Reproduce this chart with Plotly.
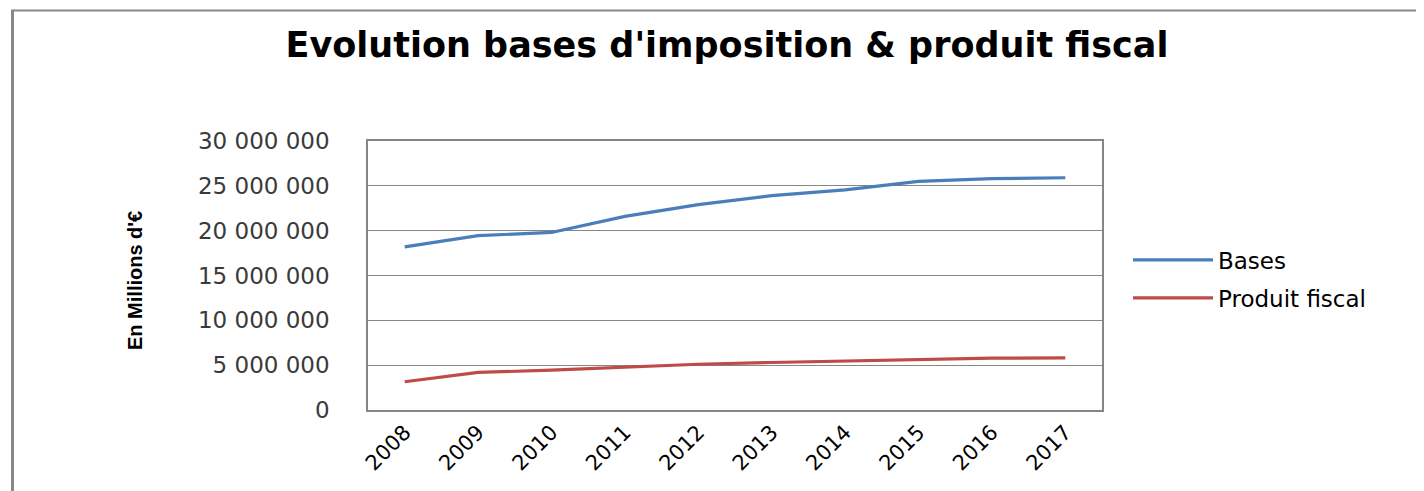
import plotly.graph_objects as go

years = ["2008", "2009", "2010", "2011", "2012", "2013", "2014", "2015", "2016", "2017"]
bases = [18200000, 19450000, 19800000, 21600000, 22900000, 23900000, 24550000, 25500000, 25800000, 25900000]
produit = [3150000, 4190000, 4440000, 4800000, 5100000, 5300000, 5480000, 5670000, 5780000, 5810000]
y_ticks = [0, 5000000, 10000000, 15000000, 20000000, 25000000, 30000000]
y_tick_labels = ["0", "5 000 000", "10 000 000", "15 000 000", "20 000 000", "25 000 000", "30 000 000"]

# the page body adds an 8px offset; work in page coordinates and subtract it
OFF = 8
W, H = 1424 - OFF, 491 - OFF
L = 368 - OFF
T = 141 - OFF
R = W - (1102 - OFF)
B = H - (410 - OFF)
pw, ph = W - L - R, H - T - B

fig = go.Figure()
fig.add_trace(go.Scatter(x=years, y=bases, mode="lines", name="Bases", legendgroup="a",
                         line=dict(color="#4A7EBB", width=3.2)))
fig.add_trace(go.Scatter(x=years, y=produit, mode="lines", name="Produit fiscal", legendgroup="b",
                         line=dict(color="#BE4B48", width=3.2)))

def px_x(x):
    return (x - OFF - L) / pw

def px_y(y):
    return 1 - (y - OFF - T) / ph

fig.update_layout(
    width=W, height=H,
    margin=dict(l=L, r=R, t=T, b=B, autoexpand=False),
    paper_bgcolor="white", plot_bgcolor="white",
    title=dict(text="<b>Evolution bases d'imposition & produit fiscal</b>",
               x=(727 - OFF) / W, xanchor="center", y=1 - (45 - OFF) / H, yanchor="middle",
               font=dict(family="DejaVu Sans", size=35, color="#000000")),
    xaxis=dict(type="category", showgrid=False, showline=True, linecolor="#868686",
               linewidth=1.5, mirror=True, ticks="", tickangle=-45,
               tickfont=dict(family="DejaVu Sans", size=21, color="#000000"),
               range=[-0.5, 9.5]),
    yaxis=dict(range=[0, 30000000], tickvals=y_ticks, ticktext=y_tick_labels,
               showgrid=True, gridcolor="#868686", gridwidth=1.2,
               showline=True, linecolor="#868686", linewidth=1.5, mirror=True,
               ticks="", ticklabelstandoff=32,
               tickfont=dict(family="DejaVu Sans", size=23, color="#3a3a3a"),
               zeroline=False),
    legend=dict(x=px_x(1128), xanchor="left", y=px_y(279), yanchor="middle",
                font=dict(family="DejaVu Sans", size=23, color="#000000"),
                itemwidth=80, tracegroupgap=5, bgcolor="rgba(0,0,0,0)"),
    showlegend=True,
)

fig.add_annotation(text="<b>En Millions d'€</b>", xref="paper", yref="paper",
                   x=px_x(135), y=px_y(280), textangle=-90, showarrow=False,
                   xanchor="center", yanchor="middle",
                   font=dict(family="Liberation Sans Narrow, Liberation Sans", size=20, color="#000000"))

# outer chart frame (left and top border)
fig.add_shape(type="line", xref="paper", yref="paper",
              x0=px_x(12.5), x1=px_x(12.5), y0=px_y(10), y1=px_y(500),
              line=dict(color="#888888", width=3))
fig.add_shape(type="line", xref="paper", yref="paper",
              x0=px_x(11), x1=px_x(1440), y0=px_y(10.5), y1=px_y(10.5),
              line=dict(color="#888888", width=2))

fig.write_html("out.html")
